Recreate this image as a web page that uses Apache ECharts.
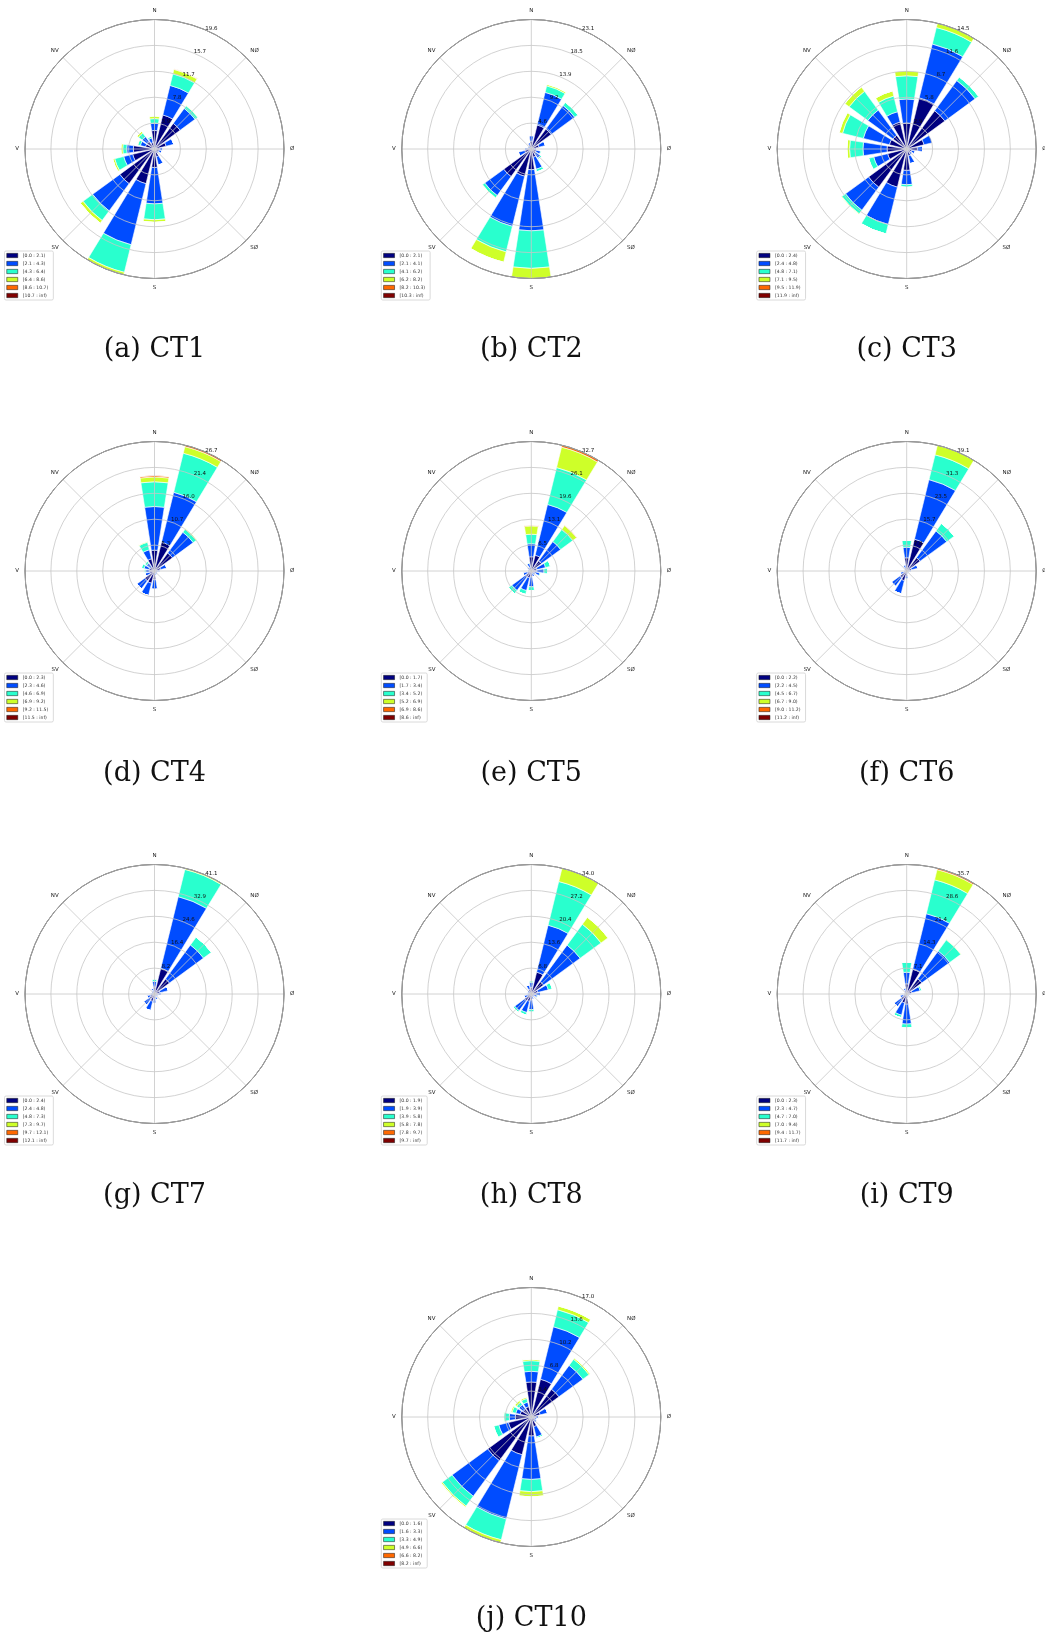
<!DOCTYPE html>
<html><head><meta charset="utf-8">
<script src="https://cdn.jsdelivr.net/npm/echarts@6/dist/echarts.min.js"></script>
<style>html,body{margin:0;padding:0;background:#fff}#c{width:1045px;height:1642px}</style>
</head><body><div id="c"></div>
<script>
// 16 sectors, clockwise from North
const directions = ['N','NNØ','NØ','ØNØ','Ø','ØSØ','SØ','SSØ','S','SSV','SV','VSV','V','VNV','NV','NNV'];
const compassNames = ['N','NØ','Ø','SØ','S','SV','V','NV'];
const binColors = ['#00007f','#004cff','#29ffce','#ceff29','#ff6800','#7f0000'];

// ---- CT1 ----
const CT1_bins = ['[0.0 : 2.1)','[2.1 : 4.3)','[4.3 : 6.4)','[6.4 : 8.6)','[8.6 : 10.7)','[10.7 : inf)'];
const CT1_ticks = ['3.9','7.8','11.7','15.7','19.6'];
const CT1_max = 19.58;
const CT1_data = [
 [2.8,5.3,4.8,1.8,0.8,0.7,0.6,1.2,2.8,5.4,6.5,3.4,3.2,1.4,1.4,1.0],
 [1.1,4.6,2.8,1.2,0.5,0.5,0.2,1.3,5.5,9.5,5.1,1.4,1.0,0.8,0.9,0.7],
 [0.7,1.8,0.5,0,0,0,0,0,2.4,4.3,1.8,1.4,0.6,0.4,0.7,0.3],
 [0.4,0.7,0.1,0,0,0,0,0,0.4,0.38,0.5,0.3,0.3,0.1,0.3,0],
 [0,0.1,0,0,0,0,0,0,0,0,0,0,0,0,0,0],
 [0,0,0,0,0,0,0,0,0,0,0,0,0,0,0,0]];
// ---- CT2 ----
const CT2_bins = ['[0.0 : 2.1)','[2.1 : 4.1)','[4.1 : 6.2)','[6.2 : 8.2)','[8.2 : 10.3)','[10.3 : inf)'];
const CT2_ticks = ['4.6','9.2','13.9','18.5','23.1'];
const CT2_max = 23.1;
const CT2_data = [
 [1.4,4.4,4.4,1.4,0.6,0.9,1.0,1.5,3.7,5.0,6.1,1.2,0.8,0.5,0.4,0.8],
 [1.0,6.0,5.2,1.2,0.4,0.8,1.0,2.2,10.9,9.2,4.2,1.2,0.4,0.3,0.3,0.4],
 [0,1.2,0.7,0,0,0.2,0.3,0.5,6.7,4.7,0.5,0,0,0,0,0],
 [0,0.3,0.05,0,0,0,0,0,1.8,1.9,0.1,0,0,0,0,0],
 [0,0,0,0,0,0,0,0,0,0,0,0,0,0,0,0],
 [0,0,0,0,0,0,0,0,0,0,0,0,0,0,0,0]];
// ---- CT3 ----
const CT3_bins = ['[0.0 : 2.4)','[2.4 : 4.8)','[4.8 : 7.1)','[7.1 : 9.5)','[9.5 : 11.9)','[11.9 : inf)'];
const CT3_ticks = ['2.9','5.8','8.7','11.6','14.5'];
const CT3_max = 14.5;
const CT3_data = [
 [2.9,5.9,5.3,2.0,1.2,0.6,0.5,0.8,2.4,4.4,5.3,2.2,2.2,2.0,1.9,3.1],
 [2.7,6.2,4.2,1.0,0.6,0.4,0.3,0.9,1.6,4.3,3.2,1.6,2.7,3.0,3.5,1.2],
 [2.6,1.9,0.5,0,0,0,0,0,0.3,1.1,0.5,0.6,1.5,2.4,2.6,1.8],
 [0.6,0.5,0,0,0,0,0,0,0,0,0.1,0,0.3,0.4,0.6,0.6],
 [0,0,0,0,0,0,0,0,0,0,0,0,0,0,0,0],
 [0,0,0,0,0,0,0,0,0,0,0,0,0,0,0,0]];
// ---- CT4 ----
const CT4_bins = ['[0.0 : 2.3)','[2.3 : 4.6)','[4.6 : 6.9)','[6.9 : 9.2)','[9.2 : 11.5)','[11.5 : inf)'];
const CT4_ticks = ['5.3','10.7','16.0','21.4','26.7'];
const CT4_max = 26.7;
const CT4_data = [
 [4.3,6.1,4.6,1.3,0.7,0.5,0.5,0.6,1.8,2.6,2.5,1.0,1.0,1.2,1.0,2.6],
 [9.0,10.6,5.3,1.3,0.5,0.3,0.3,0.4,2.0,2.6,2.0,1.0,0.8,1.0,1.0,1.9],
 [5.1,8.3,0.8,0,0,0,0,0,0,0,0,0,0.4,0.6,0.5,1.6],
 [1.0,1.4,0.2,0,0,0,0,0,0,0,0,0,0,0,0,0.2],
 [0.3,0.3,0,0,0,0,0,0,0,0,0,0,0,0,0,0],
 [0,0,0,0,0,0,0,0,0,0,0,0,0,0,0,0]];
// ---- CT5 ----
const CT5_bins = ['[0.0 : 1.7)','[1.7 : 3.4)','[3.4 : 5.2)','[5.2 : 6.9)','[6.9 : 8.6)','[8.6 : inf)'];
const CT5_ticks = ['6.5','13.1','19.6','26.1','32.7'];
const CT5_max = 32.7;
const CT5_data = [
 [3.6,4.1,3.2,1.5,1.4,1.0,0.6,0.7,1.5,1.8,1.8,1.0,0.6,0.6,0.7,1.0],
 [3.3,13.2,6.0,2.2,1.8,1.2,0.6,0.8,2.5,3.3,4.3,1.2,0.4,0.4,0.5,1.0],
 [2.4,9.6,3.8,1.3,1.0,0.3,0,0,1.0,1.0,1.0,0,0,0,0,0.2],
 [2.1,5.3,1.2,0,0,0,0,0,0,0,0,0,0,0,0,0],
 [0.2,0.5,0.15,0,0,0,0,0,0,0,0,0,0,0,0,0],
 [0,0,0,0,0,0,0,0,0,0,0,0,0,0,0,0]];
// ---- CT6 ----
const CT6_bins = ['[0.0 : 2.2)','[2.2 : 4.5)','[4.5 : 6.7)','[6.7 : 9.0)','[9.0 : 11.2)','[11.2 : inf)'];
const CT6_ticks = ['7.8','15.7','23.5','31.3','39.1'];
const CT6_max = 39.1;
const CT6_data = [
 [4.0,9.9,5.0,1.5,0.9,0.6,0.5,0.6,1.5,3.0,2.5,1.0,0.6,0.5,0.6,1.0],
 [3.2,18.5,10.0,2.0,0.6,0.4,0.3,0.4,1.0,4.1,3.2,1.0,0.4,0.3,0.4,1.0],
 [2.1,7.7,2.8,0,0,0,0,0,0,0,0,0,0,0,0,0],
 [0,3.0,0,0,0,0,0,0,0,0,0,0,0,0,0,0],
 [0,0,0,0,0,0,0,0,0,0,0,0,0,0,0,0],
 [0,0,0,0,0,0,0,0,0,0,0,0,0,0,0,0]];
// ---- CT7 ----
const CT7_bins = ['[0.0 : 2.4)','[2.4 : 4.8)','[4.8 : 7.3)','[7.3 : 9.7)','[9.7 : 12.1)','[12.1 : inf)'];
const CT7_ticks = ['8.2','16.4','24.6','32.9','41.1'];
const CT7_max = 41.1;
const CT7_data = [
 [2.2,8.4,5.9,1.8,1.2,0.9,0.6,1.0,1.5,2.4,2.0,1.3,0.9,0.7,0.7,1.0],
 [1.8,23.4,13.4,2.7,1.0,0.6,0.4,1.0,1.5,3.0,2.2,1.2,0.6,0.5,0.5,1.0],
 [0.8,8.9,3.1,0,0,0,0,0,0,0,0,0,0,0,0,0],
 [0,0.4,0,0,0,0,0,0,0,0,0,0,0,0,0,0],
 [0,0,0,0,0,0,0,0,0,0,0,0,0,0,0,0],
 [0,0,0,0,0,0,0,0,0,0,0,0,0,0,0,0]];
// ---- CT8 ----
const CT8_bins = ['[0.0 : 1.9)','[1.9 : 3.9)','[3.9 : 5.8)','[5.8 : 7.8)','[7.8 : 9.7)','[9.7 : inf)'];
const CT8_ticks = ['6.8','13.6','20.4','27.2','34.0'];
const CT8_max = 34.0;
const CT8_data = [
 [1.7,5.9,4.0,1.8,1.2,0.8,0.6,0.8,1.6,2.0,2.2,1.0,0.7,0.7,0.7,1.3],
 [1.3,12.7,11.9,2.8,1.3,0.8,0.4,0.7,2.5,3.0,3.2,1.0,0.5,0.5,0.5,1.2],
 [0.5,11.8,6.8,1.1,0,0.3,0,0,0.7,0.7,0.5,0,0,0,0,0],
 [0,3.6,2.3,0,0,0,0,0,0,0,0,0,0,0,0,0],
 [0,0,0,0,0,0,0,0,0,0,0,0,0,0,0,0],
 [0,0,0,0,0,0,0,0,0,0,0,0,0,0,0,0]];
// ---- CT9 ----
const CT9_bins = ['[0.0 : 2.3)','[2.3 : 4.7)','[4.7 : 7.0)','[7.0 : 9.4)','[9.4 : 11.7)','[11.7 : inf)'];
const CT9_ticks = ['7.1','14.3','21.4','28.6','35.7'];
const CT9_max = 35.7;
const CT9_data = [
 [2.8,7.0,5.2,1.5,0.9,0.6,0.5,0.7,2.8,2.5,2.0,1.0,0.6,0.5,0.6,1.0],
 [3.2,15.8,9.5,2.3,0.6,0.4,0.3,0.5,5.5,3.5,2.3,1.0,0.4,0.3,0.4,0.8],
 [2.8,9.6,3.8,0.5,0,0,0,0,1.1,0.7,0,0,0,0,0,0],
 [0,2.9,0.2,0,0,0,0,0,0,0,0,0,0,0,0,0],
 [0,0.4,0,0,0,0,0,0,0,0,0,0,0,0,0,0],
 [0,0,0,0,0,0,0,0,0,0,0,0,0,0,0,0]];
// ---- CT10 ----
const CT10_bins = ['[0.0 : 1.6)','[1.6 : 3.3)','[3.3 : 4.9)','[4.9 : 6.6)','[6.6 : 8.2)','[8.2 : inf)'];
const CT10_ticks = ['3.4','6.8','10.2','13.6','17.0'];
const CT10_max = 17.0;
const CT10_data = [
 [4.6,5.1,4.5,1.2,0.6,0.5,0.6,1.3,2.5,5.1,7.1,3.1,2.1,1.5,1.3,1.4],
 [1.4,7.1,3.9,1.0,0.4,0.3,0.3,1.4,5.7,8.7,5.8,1.3,0.8,0.6,0.7,0.6],
 [1.4,2.3,1.0,0,0,0,0,0.2,1.6,2.8,1.6,0.7,0.7,0.5,0.4,0.5],
 [0.2,0.5,0.2,0,0,0,0,0,0.7,0.4,0.2,0,0.1,0.2,0.3,0.2],
 [0,0,0,0,0,0,0,0,0,0,0,0,0,0,0,0],
 [0,0,0,0,0,0,0,0,0,0,0,0,0,0,0,0]];

const panelLetters = ['a','b','c','d','e','f','g','h','i','j'];
const panelNames = ['CT1','CT2','CT3','CT4','CT5','CT6','CT7','CT8','CT9','CT10'];
const panelMax = [CT1_max,CT2_max,CT3_max,CT4_max,CT5_max,CT6_max,CT7_max,CT8_max,CT9_max,CT10_max];
const panelTicks = [CT1_ticks,CT2_ticks,CT3_ticks,CT4_ticks,CT5_ticks,CT6_ticks,CT7_ticks,CT8_ticks,CT9_ticks,CT10_ticks];
const panelBins = [CT1_bins,CT2_bins,CT3_bins,CT4_bins,CT5_bins,CT6_bins,CT7_bins,CT8_bins,CT9_bins,CT10_bins];
const panelData = [CT1_data,CT2_data,CT3_data,CT4_data,CT5_data,CT6_data,CT7_data,CT8_data,CT9_data,CT10_data];

// layout (pixels)
const colX = [154.5, 531.3, 906.7];
const rowY = [149, 571, 994, 1417];
const titleY = [350, 774, 1196, 1619];
const R = 129.5;

const option = {animation:false, backgroundColor:'#fff', polar:[], angleAxis:[], radiusAxis:[], series:[], legend:[], graphic:[]};
const gridColor = '#c6c6c6';

panelNames.forEach((nm,k)=>{
  const col = k===9 ? 1 : k%3;
  const row = Math.floor(k/3);
  const cx = colX[col], cy = rowY[row];
  const base = 3*k;
  for (let j=0;j<3;j++) option.polar.push({center:[cx,cy], radius:R});
  // bar polar
  option.angleAxis.push({polarIndex:base, type:'category', data:directions, startAngle:101.25, clockwise:true, boundaryGap:true,
    axisLine:{show:false}, axisTick:{show:false}, axisLabel:{show:false}, splitLine:{show:false}});
  option.radiusAxis.push({polarIndex:base, type:'value', min:0, max:panelMax[k], show:false});
  // angular grid + direction labels + outer circle
  option.angleAxis.push({polarIndex:base+1, type:'value', min:0, max:360, interval:45, startAngle:90, clockwise:true, z:5,
    axisLine:{show:true, lineStyle:{color:'#1e1e1e', width:1}}, axisTick:{show:false},
    axisLabel:{show:true, margin:6, fontSize:5.5, color:'#222', fontFamily:'DejaVu Sans',
      formatter:v=> v>=359.9 ? '' : compassNames[Math.round(v/45)%8]},
    splitLine:{show:true, lineStyle:{color:gridColor, width:0.8}}});
  option.radiusAxis.push({polarIndex:base+1, type:'value', min:0, max:5, show:false});
  // rings + radial tick labels
  option.angleAxis.push({polarIndex:base+2, type:'value', min:0, max:360, startAngle:64, show:false});
  const ticks = panelTicks[k];
  option.radiusAxis.push({polarIndex:base+2, type:'value', min:0, max:5, interval:1, z:6,
    axisLine:{show:false}, axisTick:{show:false},
    axisLabel:{show:true, margin:0, align:'center', verticalAlign:'bottom', padding:[0,0,1.5,0], fontSize:5.5, color:'#111', fontFamily:'DejaVu Sans',
      formatter:v=>{const i=Math.round(v); return i<=0 ? '' : (ticks[i-1]||'');}},
    splitLine:{show:true, lineStyle:{color:gridColor, width:0.8}}});
  panelData[k].forEach((arr,b)=>{
    option.series.push({type:'bar', coordinateSystem:'polar', polarIndex:base, stack:'s'+k, name:panelBins[k][b],
      data:arr, barCategoryGap:'22%', silent:true, z:2,
      itemStyle:{color:binColors[b], borderColor:'#fff', borderWidth:0.6}});
  });
  option.legend.push({data:panelBins[k], orient:'vertical', left:cx-150, top:cy+102, icon:'rect',
    itemWidth:11, itemHeight:4.3, itemGap:3, padding:[2,5,2,2], backgroundColor:'#fff',
    borderColor:'#d0d0d0', borderWidth:0.8, borderRadius:1.5, selectedMode:false,
    itemStyle:{borderColor:'#111', borderWidth:0.5},
    textStyle:{fontSize:4.6, color:'#333', fontFamily:'DejaVu Sans', lineHeight:5}});
  option.graphic.push({type:'text', x:cx, y:titleY[row], silent:true,
    style:{text:'('+panelLetters[k]+') '+nm, fontSize:27, fontFamily:'DejaVu Serif', fill:'#111',
      align:'center', verticalAlign:'middle', textAlign:'center', textVerticalAlign:'middle'}});
});

const chart = echarts.init(document.getElementById('c'), null, {renderer:'canvas'});
chart.setOption(option);
</script></body></html>
